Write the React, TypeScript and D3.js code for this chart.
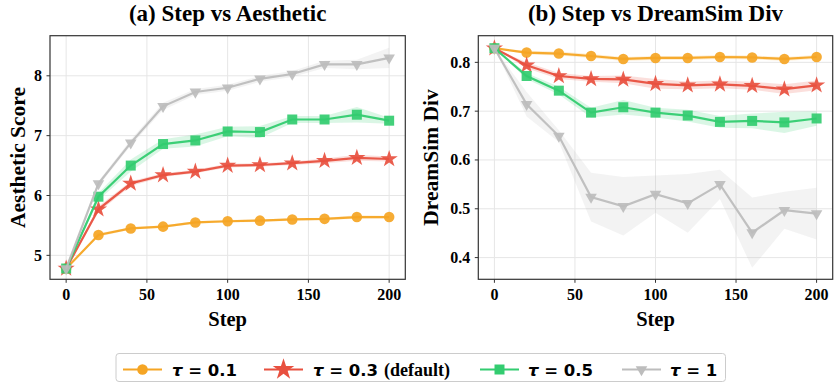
import { useRef, useEffect } from 'react'
import * as d3 from 'd3'

// step axis shared by both panels
const steps = [0, 20, 40, 60, 80, 100, 120, 140, 160, 180, 200]

// (a) aesthetic score
const aesT01 = [4.78, 5.34, 5.45, 5.48, 5.55, 5.57, 5.58, 5.6, 5.61, 5.64, 5.64]
const aesT03 = [4.78, 5.77, 6.2, 6.34, 6.4, 6.5, 6.51, 6.54, 6.58, 6.63, 6.61]
const aesT05 = [4.78, 5.98, 6.5, 6.86, 6.92, 7.07, 7.06, 7.27, 7.27, 7.35, 7.25]
const aesT1 = [4.78, 6.2, 6.88, 7.49, 7.73, 7.8, 7.95, 8.03, 8.19, 8.19, 8.3]
const aesT01Std = [0, 0.03, 0.02, 0.02, 0.02, 0.02, 0.02, 0.02, 0.02, 0.03, 0.02]
const aesT03Std = [0, 0.05, 0.04, 0.03, 0.03, 0.03, 0.03, 0.03, 0.04, 0.05, 0.04]
const aesT05Std = [0, 0.06, 0.1, 0.08, 0.1, 0.08, 0.1, 0.06, 0.06, 0.13, 0.05]
const aesT1Std = [0, 0.04, 0.05, 0.06, 0.05, 0.05, 0.05, 0.05, 0.06, 0.08, 0.17]

// (b) dreamsim diversity
const divT01 = [0.829, 0.82, 0.818, 0.813, 0.807, 0.809, 0.809, 0.811, 0.81, 0.807, 0.811]
const divT03 = [0.829, 0.794, 0.772, 0.766, 0.765, 0.756, 0.753, 0.755, 0.752, 0.745, 0.753]
const divT05 = [0.829, 0.772, 0.742, 0.697, 0.708, 0.697, 0.691, 0.678, 0.68, 0.677, 0.685]
const divT1 = [0.829, 0.714, 0.649, 0.524, 0.505, 0.53, 0.511, 0.55, 0.451, 0.497, 0.49]
const divT01Std = [0, 0.004, 0.004, 0.004, 0.004, 0.004, 0.004, 0.004, 0.004, 0.004, 0.004]
const divT03Std = [0, 0.006, 0.006, 0.006, 0.008, 0.01, 0.008, 0.008, 0.008, 0.01, 0.01]
const divT05Std = [0, 0.006, 0.008, 0.01, 0.015, 0.01, 0.012, 0.012, 0.015, 0.022, 0.015]
const divT1Std = [0, 0.025, 0.012, 0.05, 0.06, 0.038, 0.06, 0.03, 0.072, 0.038, 0.053]

const xTicks = [0, 50, 100, 150, 200]
const aesTicks = [5, 6, 7, 8]
const divTicks = [0.4, 0.5, 0.6, 0.7, 0.8]

const tauLabels = ['0.1', '0.3', '0.5', '1']
const colors = ['#f5a524', '#e8503f', '#33cc70', '#bdbdbd']
const markers = ['circle', 'star', 'square', 'tri']

const W = 834
const H = 383
const SERIF = '"Liberation Serif", "Times New Roman", serif'
const SANS = '"DejaVu Sans", sans-serif'

function markerPath(kind: string) {
  if (kind === 'circle') return d3.symbol(d3.symbolCircle, 88)()
  if (kind === 'star') return d3.symbol(d3.symbolStar, 92)()
  if (kind === 'square') return d3.symbol(d3.symbolSquare, 100)()
  return d3.symbol(d3.symbolTriangle, 58)()
}

function drawPanel(
  svg: any,
  box: { left: number; right: number; top: number; bottom: number },
  title: string,
  yLabel: string,
  yLabelOffset: number,
  yDomain: [number, number],
  yTicks: number[],
  yFmt: (v: number) => string,
  series: number[][],
  stds: number[][]
) {
  const x = d3.scaleLinear().domain([-10, 210]).range([box.left, box.right])
  const y = d3.scaleLinear().domain(yDomain).range([box.bottom, box.top])
  const g = svg.append('g')

  // grid
  g.selectAll('.gx')
    .data(xTicks)
    .join('line')
    .attr('x1', (d: number) => x(d))
    .attr('x2', (d: number) => x(d))
    .attr('y1', box.top)
    .attr('y2', box.bottom)
    .attr('stroke', '#e6e6e6')
    .attr('stroke-width', 1)
  g.selectAll('.gy')
    .data(yTicks)
    .join('line')
    .attr('class', 'gy')
    .attr('x1', box.left)
    .attr('x2', box.right)
    .attr('y1', (d: number) => y(d))
    .attr('y2', (d: number) => y(d))
    .attr('stroke', '#e6e6e6')
    .attr('stroke-width', 1)

  const plot = g.append('g')

  series.forEach((vals, i) => {
    const band = d3
      .area<number>()
      .x((_, j) => x(steps[j]))
      .y0((d, j) => y(d - stds[i][j]))
      .y1((d, j) => y(d + stds[i][j]))
    plot
      .append('path')
      .attr('d', band(vals))
      .attr('fill', colors[i])
      .attr('fill-opacity', 0.18)

    const line = d3
      .line<number>()
      .x((_, j) => x(steps[j]))
      .y((d) => y(d))
    plot
      .append('path')
      .attr('d', line(vals))
      .attr('fill', 'none')
      .attr('stroke', colors[i])
      .attr('stroke-width', 2.2)
      .attr('stroke-opacity', 0.95)

    const rot = markers[i] === 'tri' ? ' rotate(180)' : ''
    plot
      .selectAll(null)
      .data(vals)
      .join('path')
      .attr('d', markerPath(markers[i]))
      .attr('transform', (d: number, j: number) => `translate(${x(steps[j])},${y(d)})${rot}`)
      .attr('fill', colors[i])
      .attr('fill-opacity', 0.92)
  })

  // spines
  g.append('rect')
    .attr('x', box.left)
    .attr('y', box.top)
    .attr('width', box.right - box.left)
    .attr('height', box.bottom - box.top)
    .attr('fill', 'none')
    .attr('stroke', '#333')
    .attr('stroke-width', 1.2)

  // ticks
  g.selectAll('.tx')
    .data(xTicks)
    .join('line')
    .attr('x1', (d: number) => x(d))
    .attr('x2', (d: number) => x(d))
    .attr('y1', box.bottom)
    .attr('y2', box.bottom + 3.5)
    .attr('stroke', '#333')
  g.selectAll('.txl')
    .data(xTicks)
    .join('text')
    .attr('x', (d: number) => x(d))
    .attr('y', box.bottom + 21)
    .attr('text-anchor', 'middle')
    .attr('font-family', SERIF)
    .attr('font-weight', 'bold')
    .attr('font-size', 16)
    .text((d: number) => String(d))
  g.selectAll('.ty')
    .data(yTicks)
    .join('line')
    .attr('x1', box.left - 3.5)
    .attr('x2', box.left)
    .attr('y1', (d: number) => y(d))
    .attr('y2', (d: number) => y(d))
    .attr('stroke', '#333')
  g.selectAll('.tyl')
    .data(yTicks)
    .join('text')
    .attr('x', box.left - 8)
    .attr('y', (d: number) => y(d) + 5.5)
    .attr('text-anchor', 'end')
    .attr('font-family', SERIF)
    .attr('font-weight', 'bold')
    .attr('font-size', 16)
    .text((d: number) => yFmt(d))

  const cx = (box.left + box.right) / 2
  g.append('text')
    .attr('x', cx)
    .attr('y', 21)
    .attr('text-anchor', 'middle')
    .attr('font-family', SERIF)
    .attr('font-weight', 'bold')
    .attr('font-size', 23)
    .text(title)
  g.append('text')
    .attr('x', cx)
    .attr('y', 326)
    .attr('text-anchor', 'middle')
    .attr('font-family', SERIF)
    .attr('font-weight', 'bold')
    .attr('font-size', 20.5)
    .text('Step')
  g.append('text')
    .attr('transform', `translate(${box.left - yLabelOffset},${(box.top + box.bottom) / 2}) rotate(-90)`)
    .attr('text-anchor', 'middle')
    .attr('font-family', SERIF)
    .attr('font-weight', 'bold')
    .attr('font-size', 21.5)
    .text(yLabel)
}

function drawLegend(svg: any) {
  const g = svg.append('g')
  g.append('rect')
    .attr('x', 116)
    .attr('y', 353.5)
    .attr('width', 609.5)
    .attr('height', 28)
    .attr('rx', 3)
    .attr('fill', 'white')
    .attr('stroke', '#cccccc')
    .attr('stroke-width', 1)
  const handleX = [123, 264, 480, 622]
  const textX = [172, 313, 528, 670]
  const cy = 369.5
  tauLabels.forEach((lab, i) => {
    g.append('line')
      .attr('x1', handleX[i])
      .attr('x2', handleX[i] + 39)
      .attr('y1', cy)
      .attr('y2', cy)
      .attr('stroke', colors[i])
      .attr('stroke-width', 2.2)
    const rot = markers[i] === 'tri' ? ' rotate(180)' : ''
    const big = markers[i] === 'star' ? ' scale(1.25)' : ''
    g.append('path')
      .attr('d', markerPath(markers[i]))
      .attr('transform', `translate(${handleX[i] + 19.5},${cy})${rot}${big}`)
      .attr('fill', colors[i])
    const t = g
      .append('text')
      .attr('x', textX[i])
      .attr('y', cy + 6)
      .style('font-family', SANS)
      .style('font-weight', 'bold')
      .style('font-size', '16.5px')
    t.append('tspan').style('font-style', 'italic').text('τ')
    t.append('tspan').text(` = ${lab}`)
    if (i === 1) {
      const w = (t.node() as SVGTextElement).getComputedTextLength()
      g.append('text')
        .attr('x', textX[i] + w + 6)
        .attr('y', cy + 6)
        .style('font-family', SERIF)
        .style('font-weight', 'bold')
        .style('font-size', '18px')
        .text('(default)')
    }
  })
}

const App = () => {
  const svgRef = useRef<SVGSVGElement>(null)

  useEffect(() => {
    const svg = d3.select(svgRef.current)
    svg.selectAll('*').remove()
    drawPanel(
      svg,
      { left: 50, right: 405.3, top: 35.7, bottom: 279.3 },
      '(a) Step vs Aesthetic',
      'Aesthetic Score',
      25,
      [4.6, 8.67],
      aesTicks,
      (v) => String(v),
      [aesT01, aesT03, aesT05, aesT1],
      [aesT01Std, aesT03Std, aesT05Std, aesT1Std]
    )
    drawPanel(
      svg,
      { left: 478.3, right: 832.7, top: 35.7, bottom: 279.3 },
      '(b) Step vs DreamSim Div',
      'DreamSim Div',
      40,
      [0.3555, 0.8546],
      divTicks,
      (v) => v.toFixed(1),
      [divT01, divT03, divT05, divT1],
      [divT01Std, divT03Std, divT05Std, divT1Std]
    )
    drawLegend(svg)
  }, [])

  return (
    <div style={{ position: 'fixed', left: 0, top: 0, background: 'white' }}>
      <svg width={W} height={H} ref={svgRef}></svg>
    </div>
  )
}

export default App
